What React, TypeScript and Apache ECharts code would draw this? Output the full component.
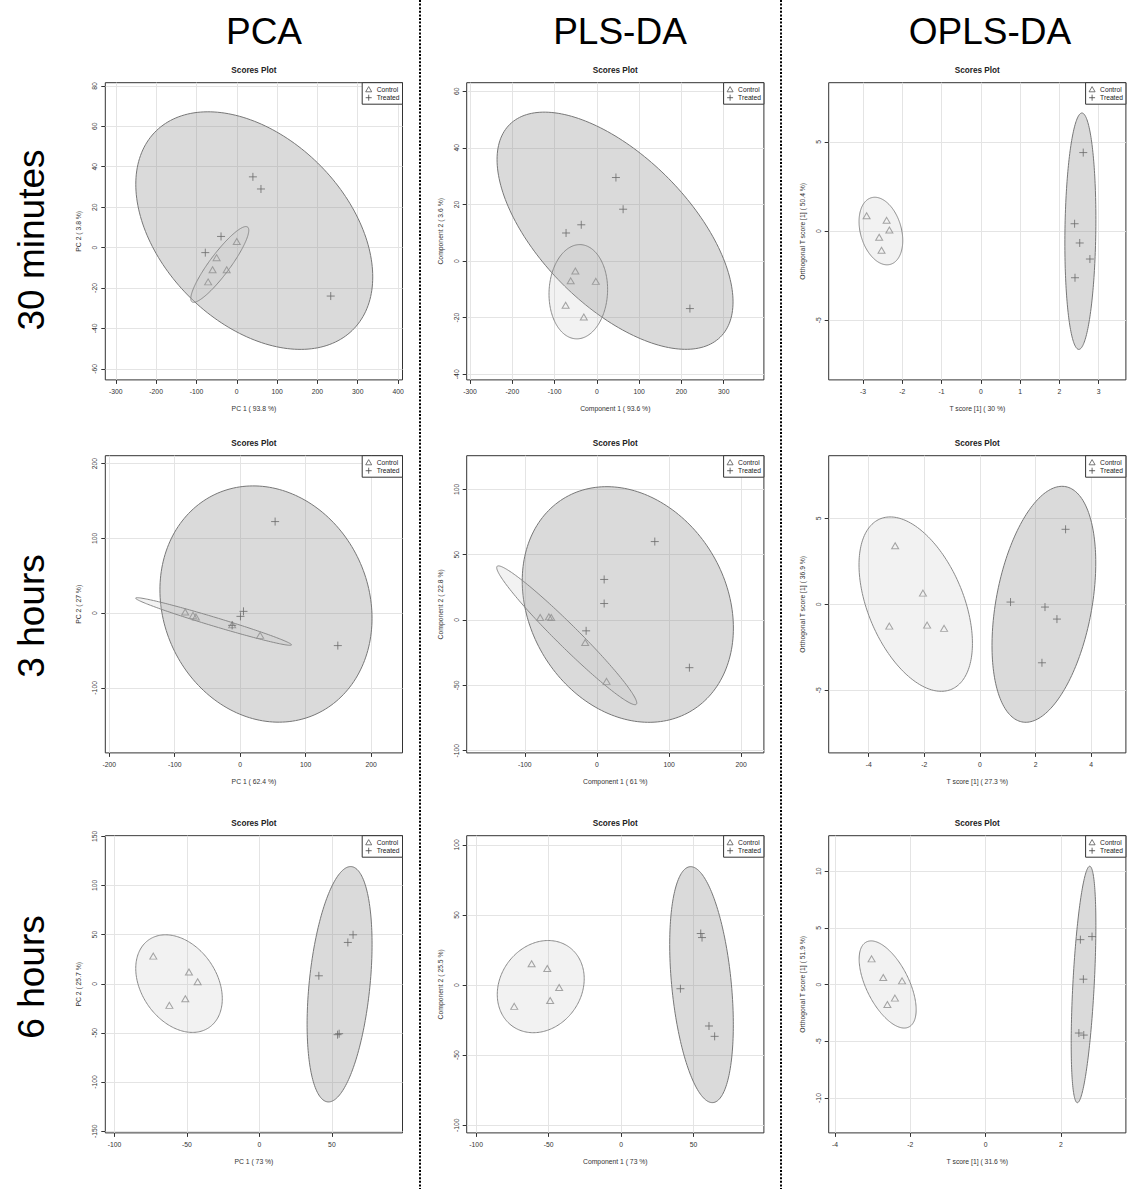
import React, { useEffect, useRef } from "react";
import * as echarts from "echarts";

const FONT = "'Liberation Sans', Arial, Helvetica, sans-serif";

// ---------- layout texts ----------
const COLUMN_TITLES = ["PCA", "PLS-DA", "OPLS-DA"];
const COLUMN_TITLE_X = [264, 620, 990];
const ROW_TITLES = ["30 minutes", "3 hours", "6 hours"];
const ROW_TITLE_Y = [240, 616, 977];
const PANEL_TITLE = "Scores Plot";
const GROUPS = ["Control", "Treated"];

// ---------- axis names (panel order: row by row) ----------
const X_NAMES = [
  "PC 1 ( 93.8 %)", "Component 1 ( 93.6 %)", "T score [1] ( 30 %)",
  "PC 1 ( 62.4 %)", "Component 1 ( 61 %)", "T score [1] ( 27.3 %)",
  "PC 1 ( 73 %)", "Component 1 ( 73 %)", "T score [1] ( 31.6 %)",
];
const Y_NAMES = [
  "PC 2 ( 3.8 %)", "Component 2 ( 3.6 %)", "Orthogonal T score [1] ( 50.4 %)",
  "PC 2 ( 27 %)", "Component 2 ( 22.8 %)", "Orthogonal T score [1] ( 36.9 %)",
  "PC 2 ( 25.7 %)", "Component 2 ( 25.5 %)", "Orthogonal T score [1] ( 51.9 %)",
];

// ---------- axis ranges ----------
const X_RANGE = [
  [-326, 411], [-308, 395], [-3.876, 3.697],
  [-206, 248], [-180.6, 231.5], [-5.44, 5.25],
  [-106.3, 98.7], [-106.5, 98.6], [-4.17, 3.73],
];
const Y_RANGE = [
  [-65.5, 81.6], [-42, 63], [-8.35, 8.32],
  [-187, 210.5], [-101.7, 125.7], [-8.64, 8.64],
  [-151.7, 150.6], [-105.5, 106.6], [-13.08, 13.14],
];

// ---------- tick labels ----------
const X_TICKS = [
  [-300, -200, -100, 0, 100, 200, 300, 400],
  [-300, -200, -100, 0, 100, 200, 300],
  [-3, -2, -1, 0, 1, 2, 3],
  [-200, -100, 0, 100, 200],
  [-100, 0, 100, 200],
  [-4, -2, 0, 2, 4],
  [-100, -50, 0, 50],
  [-100, -50, 0, 50],
  [-4, -2, 0, 2],
];
const Y_TICKS = [
  [-60, -40, -20, 0, 20, 40, 60, 80],
  [-40, -20, 0, 20, 40, 60],
  [-5, 0, 5],
  [-100, 0, 100, 200],
  [-100, -50, 0, 50, 100],
  [-5, 0, 5],
  [-150, -100, -50, 0, 50, 100, 150],
  [-100, -50, 0, 50, 100],
  [-10, -5, 0, 5, 10],
];

// ---------- scores ----------
const CONTROL_POINTS = [
  [[0, 3], [-50, -5], [-60, -11], [-25, -11], [-71, -17]],
  [[-51, -3.5], [-62, -7], [-2.5, -7.2], [-74, -15.6], [-31, -19.8]],
  [[-2.91, 0.86], [-2.4, 0.6], [-2.33, 0.06], [-2.59, -0.35], [-2.53, -1.08]],
  [[-84, 1.4], [-72, -3.1], [-67.6, -5.3], [-12.2, -15.6], [30.5, -29.8]],
  [[-78.7, 1.9], [-66.6, 2.4], [-63.4, 1.9], [-16.3, -17.2], [13.3, -47]],
  [[-3.05, 3.4], [-2.05, 0.65], [-3.26, -1.27], [-1.9, -1.21], [-1.29, -1.4]],
  [[-73.2, 28.1], [-48.6, 11.9], [-42.6, 2.0], [-51.1, -15.2], [-62.1, -22]],
  [[-61.7, 15.2], [-50.9, 11.8], [-42.7, -1.7], [-48.9, -11], [-73.7, -15.2]],
  [[-3.03, 2.27], [-2.72, 0.63], [-2.22, 0.33], [-2.41, -1.19], [-2.61, -1.75]],
];
const TREATED_POINTS = [
  [[40, 35], [60, 29], [-39, 5.5], [-78, -2.5], [233, -24]],
  [[45, 29.5], [62, 18.3], [-37, 12.8], [-73, 9.9], [220, -16.8]],
  [[2.61, 4.4], [2.39, 0.41], [2.52, -0.67], [2.78, -1.57], [2.4, -2.62]],
  [[53.4, 122.4], [5.1, 2.3], [0.5, -4.4], [-12.2, -16.4], [149.2, -43.5]],
  [[80.2, 60], [10, 31], [10, 12.6], [-15, -8.3], [128.2, -36.5]],
  [[3.08, 4.36], [1.1, 0.13], [2.34, -0.16], [2.77, -0.86], [2.23, -3.4]],
  [[64.6, 49.8], [61, 42], [41, 8.1], [55, -50.8], [53.9, -51.8]],
  [[55, 36.8], [55.9, 33.9], [41, -2.6], [60.7, -29.2], [64.6, -36.6]],
  [[2.83, 4.24], [2.52, 3.97], [2.6, 0.48], [2.48, -4.27], [2.61, -4.45]],
];

// ---------- confidence ellipses: [centre x, centre y, half-width x, half-height y, correlation] ----------
const CONTROL_ELLIPSES = [
  [-42.1, -8.35, 71.9, 18.75, 0.9],
  [-44, -10.85, 69.3, 16.65, 0.05],
  [-2.546, 0, 0.557, 1.895, -0.28],
  [-40.6, -11.25, 119.1, 31.85, -0.981],
  [-41.9, -11.7, 97.1, 53.1, -0.975],
  [-2.31, 0.01, 2.04, 5.07, -0.45],
  [-55.45, 0.15, 29.85, 49.65, -0.31],
  [-55.4, -1.1, 30, 32.9, 0.17],
  [-2.603, 0.015, 0.758, 3.845, -0.58],
];
const TREATED_ELLIPSES = [
  [43.4, 8.4, 293.8, 58.8, -0.39],
  [42.9, 10.7, 279.1, 41.9, -0.6],
  [2.537, -0.01, 0.395, 6.63, 0.1],
  [39.45, 12.1, 162, 158, -0.12],
  [42.8, 11.85, 146.4, 90.15, -0.2],
  [2.3, 0, 1.866, 6.86, 0.35],
  [55.3, -0.5, 22.4, 119.7, 0.34],
  [55.55, 0.3, 21.95, 84.2, -0.34],
  [2.604, 0.015, 0.328, 10.43, 0.5],
];

// ---------- geometry / style ----------
const W = 1147;
const H = 1189;
const GRID_LEFT = [105.3, 466.7, 828.7];
const GRID_TOP = [82.7, 455.7, 835.7];
const GRID_W = 297.2;
const GRID_H = 297.2;
const SEPARATOR_X = [420, 781];

const TRIANGLE = "path://M5,0 L10,8.66 L0,8.66 Z";
const PLUS = "path://M0,5 L10,5 M5,0 L5,10";

const CONTROL_COLOR = "#8e8e8e";
const TREATED_COLOR = "#6a6a6a";
const CONTROL_FILL = "rgba(190,190,190,0.2)";
const TREATED_FILL = "rgba(128,128,128,0.29)";
const AXIS_COLOR = "#333";
const GRID_COLOR = "#e4e4e4";
const SMALL = 6.8;

function ellipseRenderer(fill: string, stroke: string) {
  return (_params: any, api: any) => {
    const cx = api.value(0);
    const cy = api.value(1);
    const hx = api.value(2);
    const hy = api.value(3);
    const rho = api.value(4);
    const s = Math.sqrt(Math.max(0, 1 - rho * rho));
    const points: number[][] = [];
    const N = 200;
    for (let k = 0; k < N; k++) {
      const t = (2 * Math.PI * k) / N;
      const c = Math.cos(t);
      const sn = Math.sin(t);
      points.push(api.coord([cx + hx * c, cy + hy * (rho * c + s * sn)]));
    }
    return {
      type: "polygon",
      shape: { points },
      style: { fill, stroke, lineWidth: 1 },
    };
  };
}

function tickFormatter(ticks: number[]) {
  return (v: number) => (ticks.some((t) => Math.abs(t - v) < 1e-9) ? String(v) : "");
}

function buildOption() {
  const grids: any[] = [];
  const xAxes: any[] = [];
  const yAxes: any[] = [];
  const series: any[] = [];
  const legends: any[] = [];
  const graphics: any[] = [];

  for (let r = 0; r < 3; r++) {
    for (let c = 0; c < 3; c++) {
      const i = r * 3 + c;
      const left = GRID_LEFT[c];
      const top = GRID_TOP[r];
      grids.push({
        left,
        top,
        width: GRID_W,
        height: GRID_H,
        show: true,
        borderColor: AXIS_COLOR,
        borderWidth: 1,
        backgroundColor: "transparent",
        containLabel: false,
        outerBoundsMode: "none",
      });
      const xt = X_TICKS[i];
      const yt = Y_TICKS[i];
      const xStep = xt[1] - xt[0];
      const yStep = yt[1] - yt[0];
      xAxes.push({
        type: "value",
        gridIndex: i,
        min: X_RANGE[i][0],
        max: X_RANGE[i][1],
        minInterval: xStep,
        maxInterval: xStep,
        axisLine: { show: false, onZero: false },
        axisTick: { show: true, length: 4, lineStyle: { color: AXIS_COLOR }, customValues: xt },
        axisLabel: {
          show: true,
          fontSize: SMALL,
          color: AXIS_COLOR,
          margin: 8,
          customValues: xt,
          formatter: tickFormatter(xt),
          showMinLabel: true,
          showMaxLabel: true,
          hideOverlap: false,
        },
        splitLine: { show: true, lineStyle: { color: GRID_COLOR, width: 1 } },
        name: X_NAMES[i],
        nameLocation: "middle",
        nameGap: 25,
        nameTextStyle: { fontSize: SMALL, color: AXIS_COLOR },
      });
      yAxes.push({
        type: "value",
        gridIndex: i,
        min: Y_RANGE[i][0],
        max: Y_RANGE[i][1],
        minInterval: yStep,
        maxInterval: yStep,
        axisLine: { show: false, onZero: false },
        axisTick: { show: true, length: 4, lineStyle: { color: AXIS_COLOR }, customValues: yt },
        axisLabel: {
          show: true,
          fontSize: SMALL,
          color: AXIS_COLOR,
          margin: 7,
          rotate: 90,
          customValues: yt,
          formatter: tickFormatter(yt),
          showMinLabel: true,
          showMaxLabel: true,
          hideOverlap: false,
        },
        splitLine: { show: true, lineStyle: { color: GRID_COLOR, width: 1 } },
        name: Y_NAMES[i],
        nameLocation: "middle",
        nameGap: 23,
        nameRotate: 90,
        nameTextStyle: { fontSize: SMALL, color: AXIS_COLOR },
      });

      series.push({
        type: "custom",
        name: "Treated ellipse",
        xAxisIndex: i,
        yAxisIndex: i,
        data: [TREATED_ELLIPSES[i]],
        encode: { x: 0, y: 1 },
        renderItem: ellipseRenderer(TREATED_FILL, "#777"),
        silent: true,
        clip: true,
        z: 1,
      });
      series.push({
        type: "custom",
        name: "Control ellipse",
        xAxisIndex: i,
        yAxisIndex: i,
        data: [CONTROL_ELLIPSES[i]],
        encode: { x: 0, y: 1 },
        renderItem: ellipseRenderer(CONTROL_FILL, "#8a8a8a"),
        silent: true,
        clip: true,
        z: 2,
      });
      series.push({
        type: "scatter",
        name: GROUPS[0],
        xAxisIndex: i,
        yAxisIndex: i,
        data: CONTROL_POINTS[i],
        symbol: TRIANGLE,
        symbolSize: [7, 6],
        itemStyle: { color: "rgba(0,0,0,0)", borderColor: CONTROL_COLOR, borderWidth: 1 },
        silent: true,
        z: 3,
      });
      series.push({
        type: "scatter",
        name: GROUPS[1],
        xAxisIndex: i,
        yAxisIndex: i,
        data: TREATED_POINTS[i],
        symbol: PLUS,
        symbolSize: [8, 8],
        itemStyle: { color: "rgba(0,0,0,0)", borderColor: TREATED_COLOR, borderWidth: 1 },
        silent: true,
        z: 3,
      });

      legends.push({
        show: true,
        orient: "vertical",
        right: W - (left + GRID_W),
        top,
        padding: [3, 3, 3, 3],
        itemGap: 1.5,
        itemWidth: 6,
        itemHeight: 6,
        selectedMode: false,
        borderColor: AXIS_COLOR,
        borderWidth: 1,
        borderRadius: 0,
        backgroundColor: "#fff",
        textStyle: { fontSize: 6.7, color: "#222", fontFamily: FONT },
        data: [
          {
            name: GROUPS[0],
            icon: TRIANGLE,
            itemStyle: { color: "rgba(0,0,0,0)", borderColor: "#555", borderWidth: 1 },
          },
          {
            name: GROUPS[1],
            icon: PLUS,
            itemStyle: { color: "rgba(0,0,0,0)", borderColor: "#444", borderWidth: 1 },
          },
        ],
        z: 10,
      });

      graphics.push({
        type: "text",
        x: left + GRID_W / 2,
        y: top - 12.5,
        silent: true,
        style: {
          text: PANEL_TITLE,
          fontSize: 8.2,
          fontWeight: "bold",
          fontFamily: FONT,
          fill: "#222",
          textAlign: "center",
          textVerticalAlign: "middle",
        },
      });
    }
  }

  COLUMN_TITLES.forEach((t, c) => {
    graphics.push({
      type: "text",
      x: COLUMN_TITLE_X[c],
      y: 31,
      silent: true,
      style: {
        text: t,
        fontSize: 37,
        fontFamily: FONT,
        fill: "#000",
        textAlign: "center",
        textVerticalAlign: "middle",
      },
    });
  });
  ROW_TITLES.forEach((t, r) => {
    graphics.push({
      type: "text",
      x: 31,
      y: ROW_TITLE_Y[r],
      rotation: Math.PI / 2,
      silent: true,
      style: {
        text: t,
        fontSize: 37,
        fontFamily: FONT,
        fill: "#000",
        textAlign: "center",
        textVerticalAlign: "middle",
      },
    });
  });
  SEPARATOR_X.forEach((x) => {
    graphics.push({
      type: "line",
      silent: true,
      shape: { x1: x, y1: 0, x2: x, y2: H },
      style: { stroke: "#000", lineWidth: 2, lineDash: [2, 1.6] },
    });
  });

  return {
    animation: false,
    backgroundColor: "#fff",
    textStyle: { fontFamily: FONT },
    grid: grids,
    xAxis: xAxes,
    yAxis: yAxes,
    legend: legends,
    series,
    graphic: graphics,
  };
}

export default function App() {
  const ref = useRef<HTMLDivElement | null>(null);
  useEffect(() => {
    if (!ref.current) return;
    const chart = echarts.init(ref.current, undefined, { renderer: "svg" });
    chart.setOption(buildOption() as any);
    return () => {
      chart.dispose();
    };
  }, []);
  return (
    <div
      ref={ref}
      style={{ position: "absolute", left: 0, top: 0, width: W, height: H, background: "#fff" }}
    />
  );
}
